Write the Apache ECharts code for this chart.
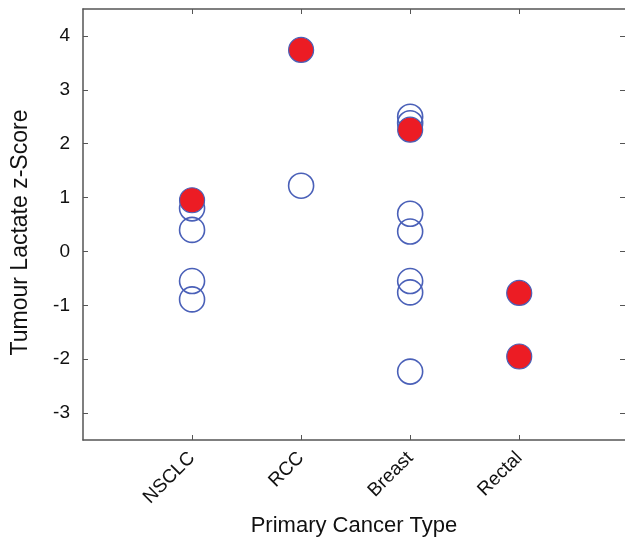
<!DOCTYPE html>
<html>
<head>
<meta charset="utf-8">
<script src="https://cdn.jsdelivr.net/npm/echarts@6/dist/echarts.min.js"></script>
<style>html,body{margin:0;padding:0;background:#fff;}#c{width:625px;height:544px;}</style>
</head>
<body>
<div id="c"></div>
<script>
const categories = ['NSCLC', 'RCC', 'Breast', 'Rectal'];
const yTicks = [-3, -2, -1, 0, 1, 2, 3, 4];
const nsclcOpen = [0.80, 0.40, -0.55, -0.89];
const nsclcFilled = [0.95];
const rccOpen = [1.22];
const rccFilled = [3.74];
const breastOpen = [2.50, 2.38, 0.70, 0.37, -0.55, -0.76, -2.23];
const breastFilled = [2.26];
const rectalOpen = [];
const rectalFilled = [-0.77, -1.95];

const openGroups = [nsclcOpen, rccOpen, breastOpen, rectalOpen];
const filledGroups = [nsclcFilled, rccFilled, breastFilled, rectalFilled];
const toPoints = groups => groups.flatMap((vals, i) => vals.map(v => [i + 1, v]));
const catPos = categories.map((c, i) => i + 1);

const font = 'Liberation Sans, Arial, Helvetica, sans-serif';
const axisColor = '#555';
const xMax = 4.97; // right frame edge lies just past the canvas edge

const chart = echarts.init(document.getElementById('c'), null, {renderer: 'canvas'});
chart.setOption({
  animation: false,
  backgroundColor: '#fff',
  grid: {left: 83, right: 0, top: 9, bottom: 104},
  xAxis: [{
    type: 'value', min: 0, max: xMax, position: 'bottom',
    name: 'Primary Cancer Type', nameLocation: 'middle', nameGap: 75,
    nameTextStyle: {fontFamily: font, fontSize: 22, color: '#111'},
    axisLine: {show: true, onZero: false, lineStyle: {color: axisColor, width: 1.5}},
    axisTick: {show: true, inside: true, length: 5, customValues: catPos, lineStyle: {color: axisColor}},
    axisLabel: {customValues: catPos, rotate: 45, margin: 15, fontFamily: font, fontSize: 19, color: '#111',
      formatter: v => categories[Math.round(v) - 1] || ''},
    splitLine: {show: false}
  }, {
    type: 'value', min: 0, max: xMax, position: 'top',
    axisLine: {show: true, onZero: false, lineStyle: {color: axisColor, width: 1.5}},
    axisTick: {show: true, inside: true, length: 5, customValues: catPos, lineStyle: {color: axisColor}},
    axisLabel: {show: false}, splitLine: {show: false}
  }],
  yAxis: [{
    type: 'value', min: -3.5, max: 4.5, position: 'left',
    name: 'Tumour Lactate z-Score', nameLocation: 'middle', nameGap: 51,
    nameTextStyle: {fontFamily: font, fontSize: 23, color: '#111', padding: [0, 16, 0, 0]},
    axisLine: {show: true, onZero: false, lineStyle: {color: axisColor, width: 1.5}},
    axisTick: {show: true, inside: true, length: 5, customValues: yTicks, lineStyle: {color: axisColor}},
    axisLabel: {customValues: yTicks, margin: 13, fontFamily: font, fontSize: 19, color: '#111'},
    splitLine: {show: false}
  }, {
    type: 'value', min: -3.5, max: 4.5, position: 'right',
    axisLine: {show: true, onZero: false, lineStyle: {color: 'rgba(0,0,0,0)', width: 1}},
    axisTick: {show: true, inside: true, length: 5, customValues: yTicks, lineStyle: {color: axisColor, width: 1}},
    axisLabel: {show: false}, splitLine: {show: false}
  }],
  series: [{
    type: 'scatter', xAxisIndex: 0, yAxisIndex: 0,
    symbol: 'circle', symbolSize: 25,
    itemStyle: {color: 'rgba(255,255,255,0)', borderColor: '#4a60b8', borderWidth: 1.6, opacity: 1},
    data: toPoints(openGroups)
  }, {
    type: 'scatter', xAxisIndex: 0, yAxisIndex: 0,
    symbol: 'circle', symbolSize: 25,
    itemStyle: {color: '#ec1c24', borderColor: '#4a60b8', borderWidth: 1.2, opacity: 1},
    data: toPoints(filledGroups)
  }]
});
</script>
</body>
</html>
